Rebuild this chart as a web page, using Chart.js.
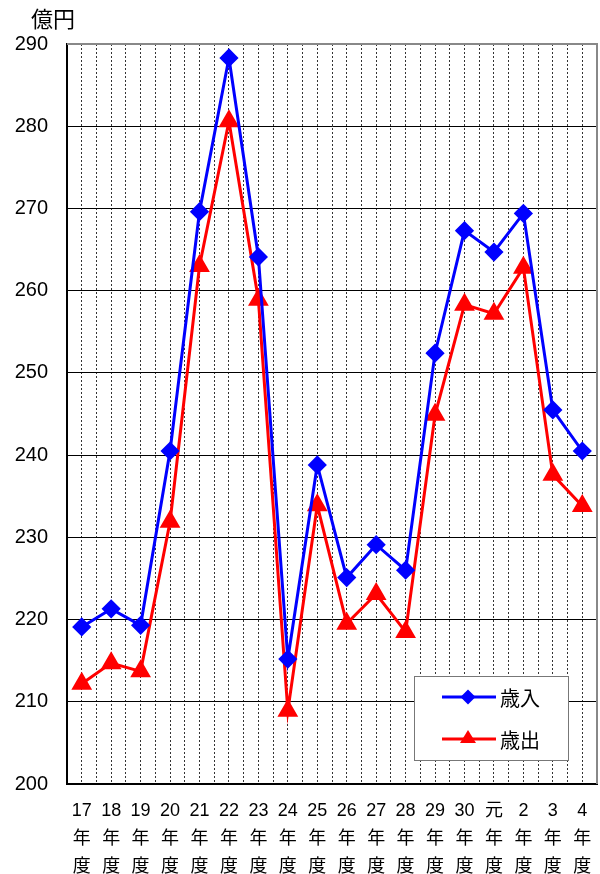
<!DOCTYPE html>
<html>
<head>
<meta charset="utf-8">
<script src="https://cdn.jsdelivr.net/npm/chart.js@4/dist/chart.umd.min.js"></script>
<style>
  html, body { margin: 0; padding: 0; background: #fff; overflow: hidden; }
  canvas { display: block; }
</style>
</head>
<body>
<canvas id="budget-chart" width="600" height="874"></canvas>
<script>
// 年度ラベル（2行目・3行目は「年」「度」）
const years = ['17', '18', '19', '20', '21', '22', '23', '24', '25', '26', '27', '28', '29', '30', '元', '2', '3', '4'];
// 歳入・歳出（億円）
const revenue = [219.1, 221.3, 219.3, 240.5, 269.6, 288.3, 264.1, 215.2, 238.8, 225.1, 229.1, 226.0, 252.4, 267.3, 264.7, 269.4, 245.5, 240.5];
const expense = [212.2, 214.7, 213.7, 231.9, 263.0, 280.6, 258.9, 208.9, 233.9, 219.5, 223.1, 218.5, 244.9, 258.3, 257.2, 262.8, 237.6, 233.8];
const yTicks = [200, 210, 220, 230, 240, 250, 260, 270, 280, 290];

const BLUE = '#0000ff';
const RED = '#ff0000';
const fontFamily = "'Liberation Sans', 'Noto Sans CJK JP', sans-serif";

function toPoints(values) {
  return values.map((v, i) => ({ x: i, y: v }));
}

// 単位「億円」と枠線
const framePlugin = {
  id: 'frame',
  beforeDatasetsDraw(chart) {
    const { ctx, chartArea: a } = chart;
    ctx.save();
    ctx.strokeStyle = '#888';
    ctx.lineWidth = 2;
    ctx.beginPath();
    ctx.moveTo(a.left, a.top);
    ctx.lineTo(a.right, a.top);
    ctx.lineTo(a.right, a.bottom);
    ctx.stroke();
    ctx.restore();
  },
  afterDraw(chart) {
    const ctx = chart.ctx;
    ctx.save();
    ctx.fillStyle = '#000';
    ctx.font = "22px 'Noto Sans CJK JP'";
    ctx.textBaseline = 'alphabetic';
    ctx.fillText('億円', 31, 27);
    ctx.restore();
  }
};

// 凡例（グラフ内右下）
const legendPlugin = {
  id: 'boxLegend',
  afterDraw(chart) {
    const { ctx, chartArea: a } = chart;
    const left = a.right - 183, top = a.bottom - 108;
    ctx.save();
    ctx.fillStyle = '#fff';
    ctx.fillRect(left, top, 154, 84);
    ctx.strokeStyle = '#777';
    ctx.lineWidth = 1;
    ctx.strokeRect(left + 0.5, top + 0.5, 154, 84);

    chart.data.datasets.forEach((ds, i) => {
      const y = top + 21 + i * 42;
      const cx = left + 54;
      ctx.strokeStyle = ds.borderColor;
      ctx.lineWidth = 3;
      ctx.beginPath();
      ctx.moveTo(left + 28, y);
      ctx.lineTo(left + 82, y);
      ctx.stroke();
      ctx.fillStyle = ds.borderColor;
      ctx.beginPath();
      if (ds.pointStyle === 'rectRot') {
        const r = 7.5;
        ctx.moveTo(cx, y - r);
        ctx.lineTo(cx + r, y);
        ctx.lineTo(cx, y + r);
        ctx.lineTo(cx - r, y);
      } else {
        ctx.moveTo(cx, y - 9);
        ctx.lineTo(cx + 8, y + 4);
        ctx.lineTo(cx - 8, y + 4);
      }
      ctx.closePath();
      ctx.fill();
      ctx.fillStyle = '#000';
      ctx.font = "20px 'Noto Sans CJK JP'";
      ctx.textBaseline = 'middle';
      ctx.fillText(ds.label, left + 86, y + 1);
    });
    ctx.restore();
  }
};

new Chart(document.getElementById('budget-chart'), {
  type: 'line',
  data: {
    datasets: [
      {
        label: '歳入',
        data: toPoints(revenue),
        borderColor: BLUE,
        backgroundColor: BLUE,
        borderWidth: 3,
        pointStyle: 'rectRot',
        pointRadius: 7.5,
        pointHoverRadius: 7.5,
        tension: 0
      },
      {
        label: '歳出',
        data: toPoints(expense),
        borderColor: RED,
        backgroundColor: RED,
        borderWidth: 3,
        pointStyle: 'triangle',
        pointRadius: 9,
        pointHoverRadius: 9,
        tension: 0
      }
    ]
  },
  options: {
    responsive: false,
    animation: false,
    layout: { autoPadding: false, padding: { top: 44, right: 3, left: 0, bottom: 0 } },
    plugins: {
      legend: { display: false },
      tooltip: { enabled: false },
      title: { display: false }
    },
    scales: {
      x: {
        type: 'linear',
        min: -0.5,
        max: years.length - 0.5,
        afterFit(scale) {
          scale.height = 90;
          scale.paddingLeft = 0;
          scale.paddingRight = 0;
        },
        afterBuildTicks(scale) {
          const t = [];
          for (let k = 0; k <= years.length * 2; k++) t.push({ value: -0.5 + k * 0.5 });
          scale.ticks = t;
        },
        ticks: {
          autoSkip: false,
          maxRotation: 0,
          padding: 13,
          color: '#000',
          font: { family: fontFamily, size: 18, lineHeight: 1.55 },
          callback: function(value) {
            if (!Number.isInteger(value)) return '';
            return [years[value], '年', '度'];
          }
        },
        grid: {
          color: '#333',
          lineWidth: 1,
          drawTicks: false
        },
        border: { display: true, color: '#000', width: 2, dash: [2, 2] }
      },
      y: {
        min: 200,
        max: 290,
        afterFit(scale) { scale.width = 67; },
        afterBuildTicks(scale) {
          scale.ticks = yTicks.map(v => ({ value: v }));
        },
        ticks: {
          padding: 19,
          color: '#000',
          font: { family: fontFamily, size: 20 }
        },
        grid: {
          color: '#000',
          lineWidth: 1,
          drawTicks: false
        },
        border: { display: true, color: '#000', width: 2 }
      }
    }
  },
  plugins: [framePlugin, legendPlugin]
});
</script>
</body>
</html>
